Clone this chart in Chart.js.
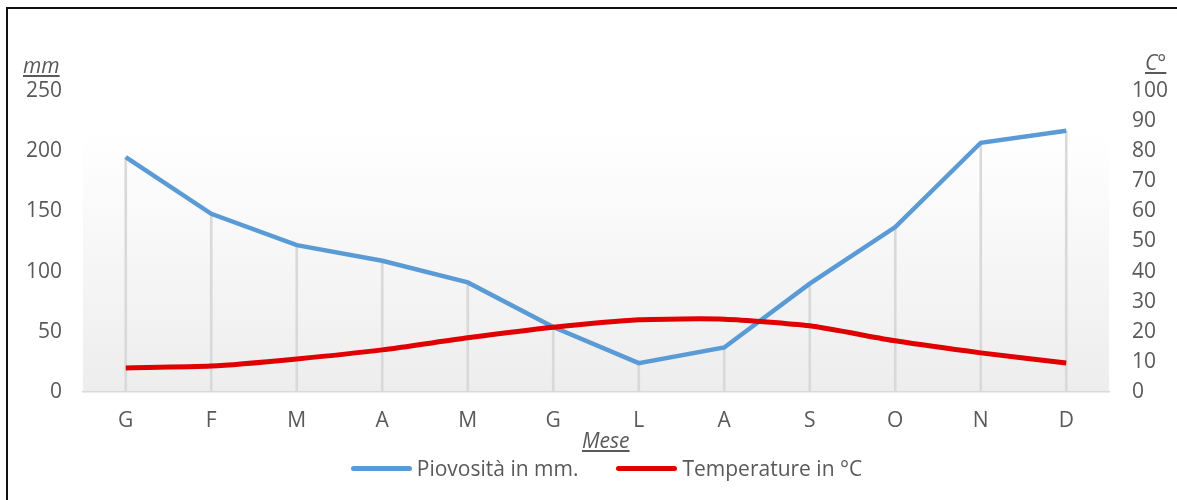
<!DOCTYPE html>
<html>
<head>
<meta charset="utf-8">
<script src="https://cdn.jsdelivr.net/npm/chart.js@4.4.1/dist/chart.umd.min.js"></script>
<style>
  html, body { margin: 0; padding: 0; background: #fff; }
  body { width: 1177px; height: 500px; position: relative; overflow: hidden; font-family: "Open Sans", sans-serif; }
  canvas { position: absolute; left: 0; top: 0; }
  .title { position: absolute; color: #595959; font-style: italic; text-decoration: underline; font-size: 21px; line-height: 1; }
  .legend { position: absolute; top: 454px; left: 18px; width: 1177px; display: flex; justify-content: center; gap: 38px; color: #595959; font-size: 21px; }
  .legend span.item { display: flex; align-items: center; }
  .legend span.swatch { display: inline-block; width: 61px; height: 5px; border-radius: 3px; margin-right: 5px; }
</style>
</head>
<body>
<canvas id="chart" width="1177" height="500"></canvas>
<div class="title" style="left:23px; top:55px;">mm</div>
<div class="title" style="left:1145px; top:52px;">C°</div>
<div class="title" style="left:582px; top:430px;">Mese</div>
<div class="legend" id="legend"></div>
<script>
// --- data ---
let months = ['G', 'F', 'M', 'A', 'M', 'G', 'L', 'A', 'S', 'O', 'N', 'D'];
let rainfall = [195, 148, 122, 109, 91, 54, 24, 37, 90, 137, 207, 217];
let temperature = [8, 8.6, 11, 14, 18, 21.5, 24, 24.2, 22, 17, 13, 9.6];
let mmTicks = [0, 50, 100, 150, 200, 250];
let tempTicks = [0, 10, 20, 30, 40, 50, 60, 70, 80, 90, 100];

let rainLabel = 'Piovosità in mm.';
let tempLabel = 'Temperature in °C';
let rainColor = '#5b9bd5';
let tempColor = '#e00000';

// grey gradient behind the plot + the thin frame round the picture
let plotBackground = {
  id: 'plotBackground',
  beforeDraw(chart) {
    let ctx = chart.ctx;
    let a = chart.chartArea;
    let top = a.top + 42;
    let g = ctx.createLinearGradient(0, top, 0, a.bottom);
    g.addColorStop(0, '#ffffff');
    g.addColorStop(1, '#ededed');
    ctx.save();
    ctx.fillStyle = g;
    ctx.fillRect(a.left, top, a.right - a.left, a.bottom - top);
    ctx.strokeStyle = '#111';
    ctx.lineWidth = 2;
    ctx.beginPath();
    ctx.moveTo(7, 500);
    ctx.lineTo(7, 8);
    ctx.lineTo(1177, 8);
    ctx.stroke();
    ctx.restore();
  }
};

let tickFont = { family: 'Open Sans', size: 21 };

let chart = new Chart(document.getElementById('chart'), {
  type: 'line',
  data: {
    labels: months,
    datasets: [
      {
        label: rainLabel,
        data: rainfall,
        yAxisID: 'y',
        borderColor: rainColor,
        borderWidth: 4.5,
        pointRadius: 0,
        tension: 0,
        order: 1
      },
      {
        label: tempLabel,
        data: temperature,
        yAxisID: 'y1',
        borderColor: tempColor,
        borderWidth: 5,
        pointRadius: 0,
        tension: 0.2,
        order: 0
      },
      {
        // drop lines from the axis up to each rainfall point
        type: 'bar',
        label: 'drop',
        data: rainfall,
        yAxisID: 'y',
        backgroundColor: '#d9d9d9',
        barThickness: 2,
        order: 2
      }
    ]
  },
  options: {
    responsive: false,
    animation: false,
    layout: { padding: { left: 7, right: 0, top: 91, bottom: 0 } },
    plugins: {
      legend: { display: false },
      tooltip: { enabled: false }
    },
    scales: {
      x: {
        offset: true,
        grid: { display: false, drawTicks: false },
        border: { display: true, color: '#d9d9d9', width: 1.5 },
        ticks: { color: '#595959', font: tickFont, padding: 16, autoSkip: false, maxRotation: 0 },
        afterFit(scale) { scale.height = 108; }
      },
      y: {
        position: 'left',
        min: 0,
        max: 250,
        afterBuildTicks(scale) { scale.ticks = mmTicks.map(v => ({ value: v })); },
        grid: { display: false, drawTicks: false },
        border: { display: false },
        ticks: { color: '#595959', font: tickFont, padding: 21 },
        afterFit(scale) { scale.width = 76; }
      },
      y1: {
        position: 'right',
        min: 0,
        max: 100,
        afterBuildTicks(scale) { scale.ticks = tempTicks.map(v => ({ value: v })); },
        grid: { display: false, drawTicks: false },
        border: { display: false },
        ticks: { color: '#595959', font: tickFont, padding: 23 },
        afterFit(scale) { scale.width = 68; }
      }
    }
  },
  plugins: [plotBackground]
});

// legend built from the line datasets
let legendBox = document.getElementById('legend');
chart.data.datasets.filter(d => d.type !== 'bar').forEach(d => {
  let item = document.createElement('span');
  item.className = 'item';
  let sw = document.createElement('span');
  sw.className = 'swatch';
  sw.style.background = d.borderColor;
  item.appendChild(sw);
  item.appendChild(document.createTextNode(d.label));
  legendBox.appendChild(item);
});
</script>
</body>
</html>
